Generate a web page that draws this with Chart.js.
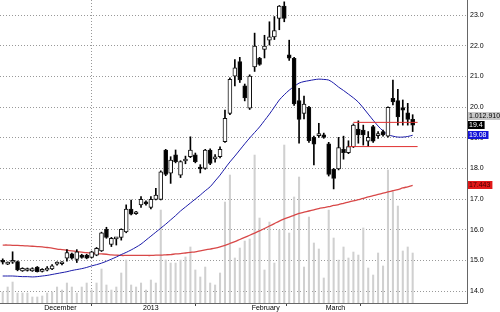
<!DOCTYPE html>
<html>
<head>
<meta charset="UTF-8" />
<title>Chart</title>
<script src="https://cdn.jsdelivr.net/npm/chart.js"></script>
<style>
  html, body { margin: 0; padding: 0; background: #fff; }
  #wrap { width: 500px; height: 312px; }
</style>
</head>
<body>
<div id="wrap"><canvas id="myChart"></canvas></div>
<script>
// daily candles (one per trading day, oldest first)
const opens = [
  14.98, 14.88, 14.94, 14.96, 14.66, 14.67, 14.66, 14.78, 14.64, 14.68,
  14.72, 14.88, 14.89, 15.07, 15.21, 15.03, 15.17, 15.17, 15.10, 15.17,
  15.31, 16.01, 15.52, 15.70, 15.75, 15.93, 16.67, 16.52, 16.81, 16.91,
  16.73, 16.99, 16.99, 18.60, 17.84, 18.44, 17.78, 18.24, 18.38, 18.44,
  18.04, 18.00, 18.60, 18.31, 18.38, 18.87, 19.79, 21.01, 21.48, 20.69,
  19.96, 21.31, 21.59, 21.88, 22.18, 22.29, 22.89, 23.29, 21.70, 21.59,
  20.21, 19.79, 19.99, 19.01, 19.07, 19.09, 18.80, 17.97, 17.98, 18.62,
  18.51, 18.71, 19.28, 19.25, 18.89, 19.36, 19.07, 19.20, 19.05, 20.28,
  20.21, 19.98, 19.81, 19.60
];
const highs = [
  15.05, 14.95, 15.28, 14.98, 14.76, 14.75, 14.76, 14.80, 14.73, 14.80,
  14.86, 14.95, 14.96, 15.35, 15.24, 15.35, 15.20, 15.20, 15.30, 15.42,
  15.92, 16.08, 15.75, 15.75, 16.03, 16.81, 16.97, 16.60, 17.08, 16.94,
  17.08, 17.35, 17.92, 18.62, 18.38, 18.60, 18.25, 18.40, 19.03, 18.50,
  18.12, 18.62, 18.64, 18.45, 18.70, 19.90, 20.95, 21.55, 21.62, 20.75,
  21.05, 22.41, 21.62, 22.34, 22.78, 22.95, 23.31, 23.43, 22.18, 21.62,
  20.61, 20.36, 20.02, 19.05, 19.47, 19.15, 18.85, 18.00, 19.01, 19.05,
  18.90, 19.45, 19.55, 19.41, 19.20, 19.40, 19.20, 19.25, 20.01, 20.88,
  20.58, 20.23, 20.12, 19.75
];
const lows = [
  14.88, 14.86, 14.90, 14.66, 14.64, 14.65, 14.64, 14.62, 14.62, 14.66,
  14.70, 14.84, 14.85, 14.97, 15.04, 14.93, 15.07, 15.05, 15.08, 15.15,
  15.29, 15.72, 15.45, 15.50, 15.66, 15.90, 16.48, 16.50, 16.73, 16.80,
  16.68, 16.97, 16.97, 17.76, 17.51, 18.18, 17.70, 18.15, 18.35, 18.18,
  17.85, 17.97, 18.12, 18.20, 18.34, 18.85, 19.75, 20.69, 20.80, 20.20,
  19.92, 21.16, 21.36, 21.60, 22.02, 22.20, 22.52, 22.78, 21.52, 20.05,
  18.82, 19.61, 18.85, 18.11, 19.01, 18.98, 17.75, 17.33, 17.95, 18.30,
  18.48, 18.68, 18.82, 18.76, 18.71, 18.85, 18.98, 19.05, 19.02, 20.07,
  19.41, 19.41, 19.41, 19.20
];
const closes = [
  14.94, 14.92, 14.98, 14.69, 14.74, 14.72, 14.73, 14.63, 14.71, 14.74,
  14.82, 14.90, 14.91, 15.25, 15.07, 15.28, 15.10, 15.07, 15.28, 15.39,
  15.90, 15.75, 15.72, 15.73, 16.01, 16.67, 16.51, 16.58, 16.99, 16.84,
  16.99, 17.13, 17.89, 17.80, 18.27, 18.22, 18.22, 18.29, 18.60, 18.22,
  17.98, 18.60, 18.16, 18.35, 18.62, 19.63, 20.90, 21.28, 20.88, 20.30,
  21.01, 21.99, 21.39, 21.99, 22.29, 22.49, 23.29, 22.89, 21.59, 20.10,
  19.60, 20.10, 18.90, 18.79, 19.10, 19.01, 17.80, 17.67, 18.68, 18.51,
  18.71, 19.41, 19.09, 19.09, 19.01, 18.89, 19.11, 19.09, 19.99, 20.17,
  19.68, 19.90, 19.60, 19.41
];
// volume in thousands of shares
const volumes = [
  223, 324, 425, 203, 203, 203, 122, 122, 142, 203,
  223, 324, 263, 405, 324, 203, 324, 405, 263, 405,
  689, 365, 263, 324, 608, 871, 365, 324, 405, 263,
  466, 405, 1884, 871, 810, 810, 871, 932, 1135, 669,
  527, 729, 405, 365, 608, 2046, 2593, 912, 1114, 1256,
  1297, 2998, 1722, 669, 1641, 810, 1479, 3201, 1418, 2148,
  2553, 729, 1742, 1216, 1094, 507, 1884, 1317, 871, 1135,
  912, 1033, 972, 1520, 709, 567, 1013, 750, 2695, 2249,
  1965, 1054, 1135, 1012.91
];
// short moving average (blue)
const maShort = [
  14.49, 14.49, 14.49, 14.48, 14.47, 14.47, 14.46, 14.47, 14.49, 14.51,
  14.54, 14.57, 14.60, 14.63, 14.67, 14.70, 14.73, 14.77, 14.82, 14.86,
  14.91, 14.97, 15.04, 15.11, 15.19, 15.26, 15.34, 15.43, 15.53, 15.66,
  15.79, 15.92, 16.05, 16.18, 16.32, 16.46, 16.61, 16.74, 16.87, 17.00,
  17.13, 17.27, 17.40, 17.59, 17.78, 18.00, 18.21, 18.40, 18.60, 18.80,
  18.99, 19.17, 19.35, 19.56, 19.77, 20.00, 20.23, 20.40, 20.55, 20.67,
  20.78, 20.83, 20.86, 20.89, 20.91, 20.90, 20.88, 20.78, 20.65, 20.54,
  20.42, 20.30, 20.16, 19.97, 19.77, 19.57, 19.38, 19.22, 19.10, 19.05,
  19.02, 19.02, 19.04, 19.08
];
// long moving average (red)
const maLong = [
  15.50, 15.50, 15.49, 15.49, 15.48, 15.47, 15.46, 15.45, 15.44, 15.42,
  15.40, 15.37, 15.35, 15.33, 15.31, 15.29, 15.27, 15.25, 15.24, 15.22,
  15.21, 15.20, 15.18, 15.17, 15.16, 15.16, 15.16, 15.16, 15.16, 15.16,
  15.16, 15.17, 15.17, 15.18, 15.19, 15.21, 15.22, 15.24, 15.26, 15.28,
  15.31, 15.34, 15.37, 15.40, 15.44, 15.49, 15.55, 15.61, 15.68, 15.75,
  15.82, 15.89, 15.96, 16.04, 16.12, 16.20, 16.28, 16.35, 16.41, 16.47,
  16.53, 16.57, 16.61, 16.65, 16.69, 16.72, 16.75, 16.79, 16.82, 16.86,
  16.90, 16.94, 16.98, 17.02, 17.07, 17.11, 17.15, 17.19, 17.23, 17.27,
  17.31, 17.36, 17.40, 17.443
];
// month start positions (candle index) and their labels
const monthIdx = [8, 28, 50, 65];
const monthLabels = ['December', '2013', 'February', 'March'];
// horizontal levels drawn at the end
const levelValues = [19.50, 18.71];
const levelFrom = [71, 70];
const levelTo = 84;

const idx = closes.map((_, i) => i);
const FONT = '"Liberation Sans", Arial, sans-serif';

function fmtVol(v) {
  return String(Math.round(v * 1000)).replace(/\B(?=(\d{3})+(?!\d))/g, '.');
}

// value boxes on the right axis
const tagPlugin = {
  id: 'tags',
  afterDraw(chart) {
    const { ctx, chartArea, scales } = chart;
    const y = scales.y;
    const last = closes.length - 1;
    const closeY = y.getPixelForValue(closes[last]);
    const tags = [
      { text: fmtVol(volumes[last]), y: closeY - 9, bg: '#c8c8c8', fg: '#000' },
      { text: closes[last].toFixed(1), y: closeY, bg: '#000', fg: '#fff' },
      { text: maShort[last].toFixed(2), y: y.getPixelForValue(maShort[last]), bg: '#1414d8', fg: '#fff' },
      { text: maLong[last].toFixed(3), y: y.getPixelForValue(maLong[last]), bg: '#e01818', fg: '#400' }
    ];
    ctx.save();
    ctx.font = '7px ' + FONT;
    ctx.textBaseline = 'middle';
    tags.forEach(t => {
      const w = ctx.measureText(t.text).width + 3;
      ctx.fillStyle = t.bg;
      ctx.fillRect(chartArea.right + 1, Math.round(t.y) - 4, w, 8);
      ctx.fillStyle = t.fg;
      ctx.fillText(t.text, chartArea.right + 2, Math.round(t.y) + 0.5);
    });
    ctx.restore();
  }
};

const levelSets = levelValues.map((v, k) => ({
  type: 'line',
  data: [{ x: levelFrom[k], y: v }, { x: levelTo, y: v }],
  borderColor: '#e03030', borderWidth: 1, pointRadius: 0, order: 0
}));

const ctx = document.getElementById('myChart').getContext('2d');
new Chart(ctx, {
  type: 'bar',
  data: {
    datasets: [
      ...levelSets,
      {
        // candle bodies
        data: idx.map(i => ({ x: i, y: [opens[i], closes[i]] })),
        backgroundColor: idx.map(i => closes[i] >= opens[i] ? '#fff' : '#000'),
        borderColor: '#111', borderWidth: 1, borderSkipped: false,
        barThickness: 4, minBarLength: 2, grouped: false, order: 1
      },
      {
        // wicks
        data: idx.map(i => ({ x: i, y: [lows[i], highs[i]] })),
        backgroundColor: '#000', barThickness: 1, grouped: false, order: 2
      },
      {
        type: 'line',
        data: idx.map(i => ({ x: i, y: maShort[i] })),
        borderColor: '#1a1aa8', borderWidth: 1, pointRadius: 0, tension: 0.3, order: 3
      },
      {
        type: 'line',
        data: idx.map(i => ({ x: i, y: maLong[i] })),
        borderColor: '#d84848', borderWidth: 1.3, pointRadius: 0, tension: 0.3, order: 4
      },
      {
        // volume
        data: idx.map(i => ({ x: i, y: volumes[i] })),
        yAxisID: 'yVol', backgroundColor: '#d0d0d0', barThickness: 1.4, grouped: false, order: 10
      }
    ]
  },
  options: {
    responsive: true,
    maintainAspectRatio: false,
    animation: false,
    layout: { padding: 0 },
    plugins: { legend: { display: false }, tooltip: { enabled: false } },
    scales: {
      x: {
        type: 'linear', position: 'bottom', min: -0.55, max: 94, offset: false,
        afterBuildTicks: axis => { axis.ticks = monthIdx.map(v => ({ value: v })); },
        afterFit: axis => { axis.height = 9; axis.paddingLeft = 0; axis.paddingRight = 0; },
        ticks: {
          autoSkip: false, maxRotation: 0, align: 'start', padding: -2, labelOffset: 2,
          color: '#000', font: { family: FONT, size: 7 },
          callback: v => monthLabels[monthIdx.indexOf(v)]
        },
        grid: {
          color: c => (c.tick && c.tick.value === monthIdx[1]) ? '#999' : 'rgba(0,0,0,0)',
          tickColor: '#444', tickWidth: 1, tickLength: 3
        },
        border: { display: true, color: '#666', width: 1, dash: [1, 2] }
      },
      y: {
        position: 'right', min: 13.61, max: 23.49,
        afterFit: axis => { axis.width = 33; axis.paddingTop = 0; axis.paddingBottom = 0; },
        ticks: {
          stepSize: 1, includeBounds: false, padding: 3, color: '#000',
          font: { family: FONT, size: 7 },
          callback: v => v.toFixed(1)
        },
        grid: { color: '#999', drawTicks: false },
        border: { display: true, color: '#666', width: 1, dash: [1, 2] }
      },
      yVol: {
        display: false, min: 0, max: 6140
      }
    }
  },
  plugins: [tagPlugin]
});
</script>
</body>
</html>
